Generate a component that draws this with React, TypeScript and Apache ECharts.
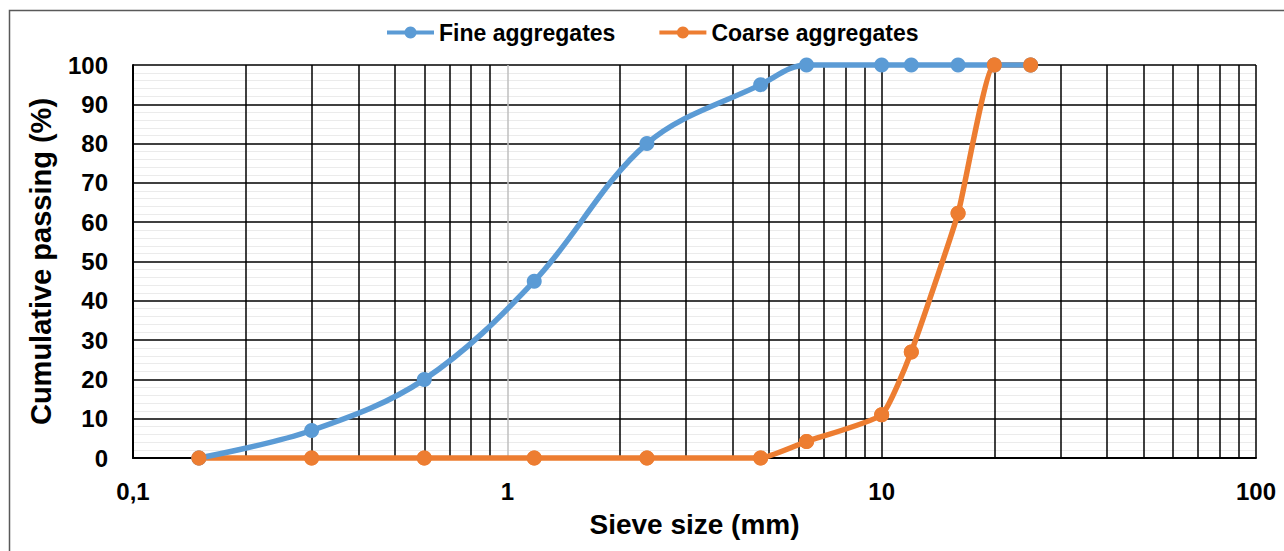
import React, { useEffect, useRef } from "react";
import * as echarts from "echarts";

const sieveSizes = [0.15, 0.3, 0.6, 1.18, 2.36, 4.75, 6.3, 10, 12, 16, 20, 25];
const fineAggregates = [0, 7, 20, 45, 80, 95, 100, 100, 100, 100, 100, 100];
const coarseAggregates = [0, 0, 0, 0, 0, 0, 4.2, 11, 27, 62.3, 100, 100];
const minorGridX = [0.2, 0.3, 0.4, 0.5, 0.6, 0.7, 0.8, 0.9, 2, 3, 4, 5, 6, 7, 8, 9, 20, 30, 40, 50, 60, 70, 80, 90];
const majorGridColors = ["#000000", "#bfbfbf", "#000000", "#000000"];

const FONT = "'Liberation Sans', Arial, sans-serif";
const BLUE = "#5B9BD5";
const ORANGE = "#ED7D31";

export default function App() {
  const ref = useRef<HTMLDivElement>(null);
  useEffect(() => {
    document.body.style.margin = "0";
    const chart = echarts.init(ref.current!, null, { renderer: "svg" });
    const fineData = sieveSizes.map((s, i) => [s, fineAggregates[i]]);
    const coarseData = sieveSizes.map((s, i) => [s, coarseAggregates[i]]);
    chart.setOption({
      animation: false,
      textStyle: { fontFamily: FONT },
      graphic: [
        {
          type: "rect",
          shape: { x: 9.5, y: 10.5, width: 1400, height: 700 },
          style: { fill: "none", stroke: "#595959", lineWidth: 1.5 },
          silent: true,
        },
      ],
      legend: {
        data: ["Fine aggregates", "Coarse aggregates"],
        left: 380,
        top: 16,
        itemWidth: 47,
        itemHeight: 15,
        itemGap: 42,
        lineStyle: { width: 4 },
        textStyle: { fontFamily: FONT, fontWeight: "bold", fontSize: 23, color: "#000" },
      },
      grid: { left: 133, right: 28, top: 65, bottom: 93, containLabel: false },
      xAxis: {
        type: "log",
        logBase: 10,
        min: 0.1,
        max: 100,
        name: "Sieve size (mm)",
        nameLocation: "middle",
        nameGap: 52,
        nameTextStyle: { fontFamily: FONT, fontWeight: "bold", fontSize: 28, color: "#000" },
        axisLine: { show: true, lineStyle: { color: "#000", width: 2 } },
        axisTick: { show: false },
        axisLabel: {
          fontFamily: FONT,
          fontWeight: "bold",
          fontSize: 24,
          color: "#000",
          margin: 21,
          formatter: (v: number) => String(v).replace(".", ","),
        },
        splitLine: { show: true, lineStyle: { color: majorGridColors, width: 1.5 } },
      },
      yAxis: {
        type: "value",
        min: 0,
        max: 100,
        interval: 10,
        name: "Cumulative passing (%)",
        nameLocation: "middle",
        nameGap: 78,
        nameTextStyle: { fontFamily: FONT, fontWeight: "bold", fontSize: 29, color: "#000" },
        axisLine: { show: true, lineStyle: { color: "#000", width: 2 } },
        axisTick: { show: false },
        axisLabel: { fontFamily: FONT, fontWeight: "bold", fontSize: 24, color: "#000", margin: 25 },
        splitLine: { show: true, lineStyle: { color: "#000", width: 1.5 } },
        minorTick: { show: false, splitNumber: 5 },
        minorSplitLine: { show: true, lineStyle: { color: "#ebebeb", width: 1 } },
      },
      series: [
        {
          name: "Coarse aggregates",
          type: "line",
          data: coarseData,
          smooth: 0.15,
          clip: false,
          symbol: "circle",
          symbolSize: 15,
          z: 2,
          itemStyle: { color: ORANGE, opacity: 1 },
          lineStyle: { color: ORANGE, width: 5.5 },
          emphasis: { disabled: true },
          markLine: {
            silent: true,
            symbol: ["none", "none"],
            label: { show: false },
            z: 1,
            lineStyle: { color: "#000", width: 1.5, type: "solid" },
            emphasis: { disabled: true },
            data: minorGridX.map((v) => ({ xAxis: v })),
          },
        },
        {
          name: "Fine aggregates",
          type: "line",
          data: fineData,
          smooth: 0.35,
          clip: false,
          symbol: "circle",
          symbolSize: 15,
          z: 3,
          itemStyle: { color: BLUE, opacity: 1 },
          lineStyle: { color: BLUE, width: 5.5 },
          emphasis: { disabled: true },
        },
        {
          name: "coarse-markers",
          type: "scatter",
          data: coarseData,
          symbol: "circle",
          symbolSize: 15,
          clip: false,
          z: 4,
          itemStyle: { color: ORANGE, opacity: 1 },
          emphasis: { disabled: true },
        },
      ],
    });
    return () => chart.dispose();
  }, []);
  return <div ref={ref} style={{ width: 1284, height: 551 }} />;
}
